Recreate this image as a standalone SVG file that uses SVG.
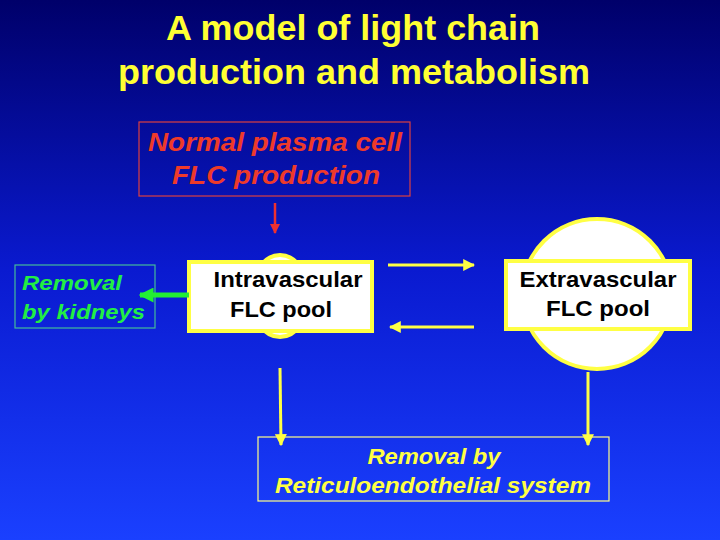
<svg xmlns="http://www.w3.org/2000/svg" width="720" height="540" viewBox="0 0 720 540">
<defs>
<linearGradient id="bg" x1="0" y1="0" x2="0" y2="1">
<stop offset="0" stop-color="#00006a"/><stop offset="0.5" stop-color="#0a1ad0"/><stop offset="1" stop-color="#1a40ff"/>
</linearGradient>
<style>
text{font-family:"Liberation Sans",Arial,sans-serif;font-weight:bold;text-anchor:middle}
.t{fill:#ffff33;font-size:35px}
.y{stroke:#ffff44;stroke-width:3;fill:none}
.lab{font-size:22px;fill:#000}
</style>
<marker id="ay" viewBox="0 0 10 10" refX="9" refY="5" markerWidth="4" markerHeight="4" orient="auto"><path d="M0,0L10,5L0,10z" fill="#ffff44"/></marker>
<marker id="ar" viewBox="0 0 10 10" refX="9" refY="5" markerWidth="4" markerHeight="4" orient="auto"><path d="M0,0L10,5L0,10z" fill="#ee3030"/></marker>
<marker id="ag" viewBox="0 0 10 10" refX="9" refY="5" markerWidth="3" markerHeight="3" orient="auto"><path d="M0,0L10,5L0,10z" fill="#22ee33"/></marker>
</defs>
<rect width="720" height="540" fill="url(#bg)"/>
<text class="t" x="353" y="40" textLength="374" lengthAdjust="spacingAndGlyphs">A model of light chain</text>
<text class="t" x="354" y="84" textLength="472" lengthAdjust="spacingAndGlyphs">production and metabolism</text>
<g id="production">
<rect x="139" y="122" width="271" height="74" fill="none" stroke="#dd4040" stroke-width="1.2"/>
<text x="275" y="151" font-size="25" font-style="italic" fill="#ee3a2a" textLength="254" lengthAdjust="spacingAndGlyphs">Normal plasma cell</text>
<text x="276" y="184" font-size="25" font-style="italic" fill="#ee3a2a" textLength="208" lengthAdjust="spacingAndGlyphs">FLC production</text>
</g>
<g id="kidneys">
<rect x="15" y="265" width="140" height="63" fill="none" stroke="#44bb99" stroke-width="1.2"/>
<text x="22" y="290" font-size="21" font-style="italic" fill="#22ee44" style="text-anchor:start" textLength="100" lengthAdjust="spacingAndGlyphs">Removal</text>
<text x="22" y="319" font-size="21" font-style="italic" fill="#22ee44" style="text-anchor:start" textLength="123" lengthAdjust="spacingAndGlyphs">by kidneys</text>
</g>
<g id="intra">
<ellipse cx="280" cy="296" rx="29" ry="41" fill="#fff" stroke="#ffff44" stroke-width="4"/>
<rect x="189" y="262" width="183" height="69" fill="#fff" stroke="#ffff44" stroke-width="4"/>
<text class="lab" x="288" y="287" textLength="149" lengthAdjust="spacingAndGlyphs">Intravascular</text>
<text class="lab" x="281" y="317" textLength="102" lengthAdjust="spacingAndGlyphs">FLC pool</text>
</g>
<g id="extra">
<circle cx="597" cy="294" r="75" fill="#fff" stroke="#ffff44" stroke-width="4"/>
<rect x="506" y="261" width="184" height="68" fill="#fff" stroke="#ffff44" stroke-width="4"/>
<text class="lab" x="598" y="287" textLength="157" lengthAdjust="spacingAndGlyphs">Extravascular</text>
<text class="lab" x="598" y="316" textLength="104" lengthAdjust="spacingAndGlyphs">FLC pool</text>
</g>
<g id="res">
<rect x="258" y="437" width="351" height="64" fill="none" stroke="#ffff88" stroke-width="1.2"/>
<text x="434" y="464" font-size="22" font-style="italic" fill="#ffff44" textLength="133" lengthAdjust="spacingAndGlyphs">Removal by</text>
<text x="433" y="493" font-size="22" font-style="italic" fill="#ffff44" textLength="316" lengthAdjust="spacingAndGlyphs">Reticuloendothelial  system</text>
</g>
<g id="connectors">
<line x1="275" y1="203" x2="275" y2="233" stroke="#ee3030" stroke-width="2.5" marker-end="url(#ar)"/>
<line x1="189" y1="295" x2="140" y2="295" stroke="#22ee33" stroke-width="5" marker-end="url(#ag)"/>
<line x1="388" y1="265" x2="474" y2="265" class="y" marker-end="url(#ay)"/>
<line x1="474" y1="327" x2="390" y2="327" class="y" marker-end="url(#ay)"/>
<line x1="280" y1="368" x2="281" y2="445" class="y" marker-end="url(#ay)"/>
<line x1="588" y1="372" x2="588" y2="445" class="y" marker-end="url(#ay)"/>
</g>
</svg>
